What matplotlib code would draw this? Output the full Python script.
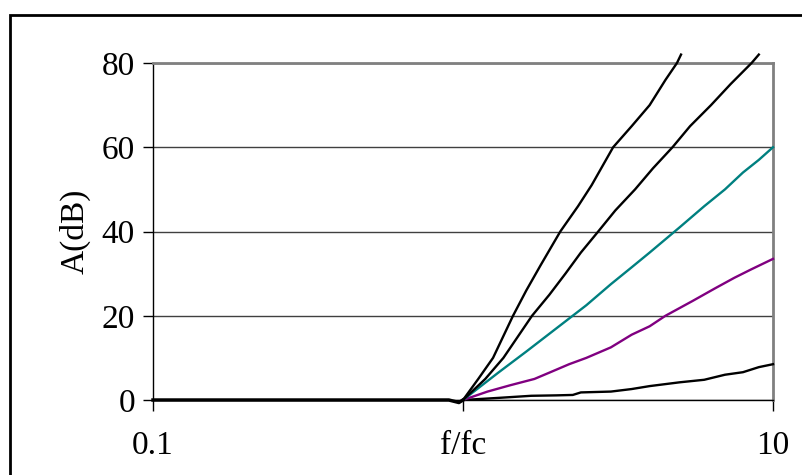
import matplotlib
import matplotlib.pyplot as plt
import matplotlib.patches as patches

matplotlib.rcParams.update({'font.family': 'Liberation Serif', 'font.size': 24})

# shared flat part below the corner frequency (all curves at 0 dB)
f_low = [0.1, 0.3, 0.6, 0.9, 0.97, 1]
a_low = [0, 0, 0, 0, -0.6, 0]

# stopband curves, f/fc and attenuation in dB
f_c1 = [1, 1.3, 1.66, 2.0, 2.26, 2.4, 3.0, 3.5, 4.0, 5.0, 6.0, 7.0, 8.0, 9.0, 10]
a_c1 = [0, 0.5, 1.0, 1.1, 1.2, 1.8, 2.0, 2.6, 3.3, 4.2, 4.8, 6.0, 6.6, 7.8, 8.5]

f_c2 = [1, 1.2, 1.42, 1.7, 1.9, 2.2, 2.5, 3.0, 3.5, 4.0, 4.5, 5.5, 6.5, 7.5, 8.5, 10]
a_c2 = [0, 2, 3.5, 5, 6.5, 8.5, 10, 12.5, 15.5, 17.5, 20, 23.5, 26.5, 29, 31, 33.5]

f_c3 = [1, 1.3, 1.6, 2.0, 2.5, 3.0, 3.5, 4.0, 5.0, 6.0, 7.0, 8.0, 9.0, 10]
a_c3 = [0, 6.5, 11.5, 17, 22.5, 27.5, 31.5, 35, 41, 46, 50, 54, 57, 60]

f_c4 = [1, 1.18, 1.35, 1.67, 1.9, 2.14, 2.4, 2.73, 3.1, 3.59, 4.1, 4.74, 5.4, 6.31, 7.3, 8.53, 9.0]
a_c4 = [0, 5, 10, 20, 25, 30, 35, 40, 45, 50, 55, 60, 65, 70, 75, 80, 82]

f_c5 = [1, 1.12, 1.25, 1.45, 1.6, 1.78, 2.06, 2.35, 2.6, 3.05, 3.5, 4.0, 4.5, 4.9, 5.05]
a_c5 = [0, 5, 10, 20, 26, 32, 40, 46, 51, 60, 65, 70, 76, 80, 82]

curves = [(f_c1, a_c1, 'black'), (f_c2, a_c2, '#800080'), (f_c3, a_c3, '#008080'),
          (f_c4, a_c4, 'black'), (f_c5, a_c5, 'black')]

x_ticks = [0.1, 1, 10]
x_ticklabels = ['0.1', 'f/fc', '10']
y_ticks = [0, 20, 40, 60, 80]

fig = plt.figure(figsize=(8.02, 4.75), dpi=100)
ax = fig.add_axes([153/802, 75/475, 620/802, 337/475])

for f, a, col in curves:
	ax.plot(f, a, color=col, lw=1.7, clip_on=False, zorder=3)
# the overlapping flat parts read as one thicker black line
ax.plot(f_low, a_low, color='black', lw=2.5, clip_on=False, zorder=4)

ax.set_xscale('log')
ax.set_xlim(0.1, 10)
ax.set_ylim(0, 80)
ax.set_xticks(x_ticks)
ax.set_xticklabels(x_ticklabels)
ax.xaxis.set_minor_locator(matplotlib.ticker.NullLocator())
ax.set_yticks(y_ticks)
ax.tick_params(axis='x', direction='out', length=8, width=1, pad=14)
ax.tick_params(axis='y', direction='out', length=7, width=1, pad=6)
ax.set_ylabel('A(dB)', labelpad=8)

ax.grid(axis='y', color='#404040', lw=1)
ax.set_axisbelow(True)
for side in ['top', 'right']:
	ax.spines[side].set_color('#808080')
	ax.spines[side].set_linewidth(2)
for side in ['left', 'bottom']:
	ax.spines[side].set_color('black')
	ax.spines[side].set_linewidth(1)

# outer chart frame (cut off at the right and bottom)
frame = patches.Rectangle((10/802, -0.1), 1.2, 1 - 15/475 + 0.1, transform=fig.transFigure,
	fill=False, edgecolor='black', linewidth=2)
fig.patches.append(frame)

fig.savefig('out.png', dpi=100)
